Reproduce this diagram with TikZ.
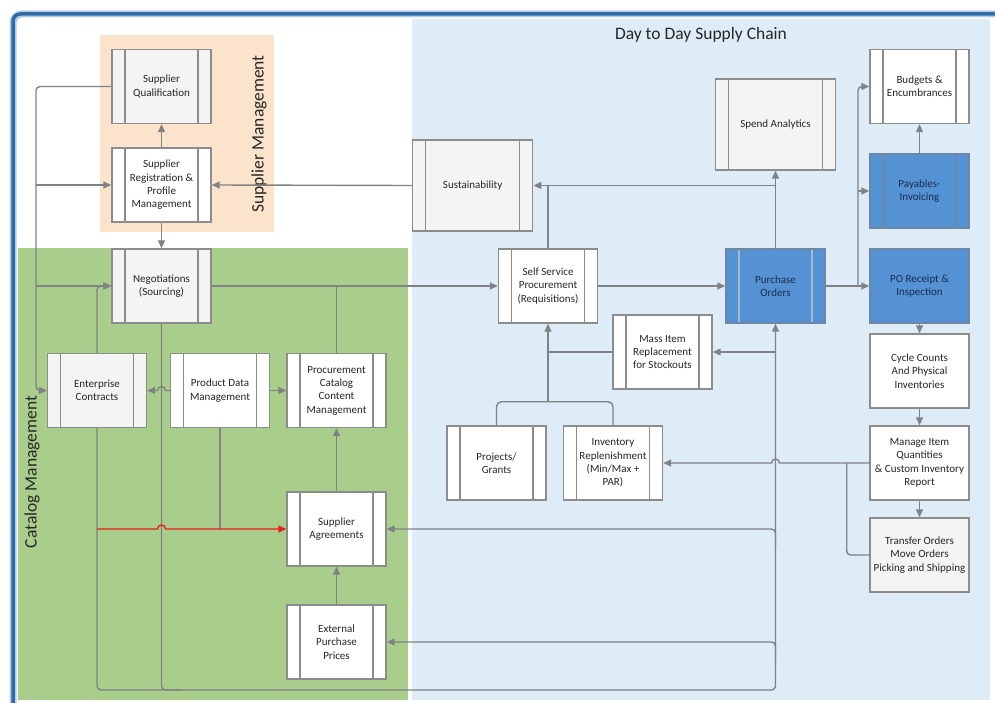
\documentclass[tikz,border=0pt]{standalone}
\usepackage{fontspec}
\setmainfont{Carlito}
\usetikzlibrary{arrows.meta}
\definecolor{framec}{RGB}{46,107,168}
\definecolor{orangebg}{RGB}{251,228,203}
\definecolor{greenbg}{RGB}{169,206,140}
\definecolor{bluebg}{RGB}{221,236,246}
\definecolor{boxc}{RGB}{140,140,140}
\definecolor{connc}{RGB}{128,130,133}
\definecolor{lightfill}{RGB}{244,244,244}
\definecolor{bluefill}{RGB}{84,146,212}
\definecolor{blueline}{RGB}{110,135,165}
\definecolor{textc}{RGB}{38,38,38}
\definecolor{navy}{RGB}{28,45,80}
\definecolor{redc}{RGB}{232,28,28}
\tikzset{
  basebox/.style={draw=boxc, line width=1.4pt, minimum width=99pt, minimum height=74pt,
    inner sep=1pt, align=center, font=\fontsize{11}{13.3}\selectfont, text=textc, fill=white},
  proc/.style={basebox, path picture={
      \draw[#1, line width=1.4pt]
        ([xshift=13pt]path picture bounding box.north west) -- ([xshift=13pt]path picture bounding box.south west)
        ([xshift=-13pt]path picture bounding box.north east) -- ([xshift=-13pt]path picture bounding box.south east);}},
  proc/.default=boxc,
  bigbox/.style={minimum width=120pt, minimum height=91pt},
  bluebox/.style={fill=bluefill, draw=blueline, text=navy},
  line/.style={draw=connc, line width=1.4pt},
  arr/.style={line, -{Triangle[length=8pt,width=7pt]}},
  redarr/.style={draw=redc, line width=1.4pt, -{Triangle[length=8pt,width=7pt]}},
  region/.style={font=\fontsize{17.5}{20}\selectfont, text=black!85}
}
\begin{document}
\begin{tikzpicture}[x=1pt,y=-1pt]
\useasboundingbox (0,0) rectangle (995,703);
\fill[white] (0,0) rectangle (995,703);
% frame
\begin{scope}
\clip (0,0) rectangle (995,703);
\draw[framec!35, line width=7pt, rounded corners=9pt] (13,14) rectangle (1010,720);
\draw[framec, line width=3.5pt, rounded corners=7pt] (13,14) rectangle (1010,720);
\end{scope}
% regions
\fill[orangebg] (100,35) rectangle (274,232);
\fill[greenbg] (18,248) rectangle (408,700);
\fill[bluebg] (412,19) rectangle (990,700);
\node[region] (title) at (701,35) {Day to Day Supply Chain};
\node[region, rotate=90] (suplab) at (259,134) {Supplier Management};
\node[region, rotate=90] (catlab) at (32,472) {Catalog Management};
% nodes
\node[proc, fill=lightfill] (sq) at (161.5,86.5) {Supplier\\Qualification};
\node[proc] (sr) at (161.5,185) {Supplier\\Registration \&\\Profile\\Management};
\node[proc, fill=lightfill] (neg) at (161.5,286) {Negotiations\\(Sourcing)};
\node[proc, fill=lightfill] (ec) at (97,390.5) {Enterprise\\Contracts};
\node[proc] (pdm) at (220,390.5) {Product Data\\Management};
\node[proc] (pccm) at (336.5,390.5) {Procurement\\Catalog\\Content\\Management};
\node[proc] (sa) at (336.5,529) {Supplier\\Agreements};
\node[proc] (epp) at (336.5,642) {External\\Purchase\\Prices};
\node[proc, bigbox, fill=lightfill] (sus) at (472.7,185.5) {Sustainability};
\node[proc, bigbox, fill=lightfill] (spend) at (775.5,124.5) {Spend Analytics};
\node[proc] (bud) at (919.5,86.5) {Budgets \&\\Encumbrances};
\node[proc=blueline, bluebox] (pay) at (919.5,191) {Payables-\\Invoicing};
\node[basebox, bluebox] (por) at (919.5,286) {PO Receipt \&\\Inspection};
\node[proc=blueline!60, bluebox] (po) at (775.5,286) {Purchase\\Orders};
\node[proc] (ssp) at (548,286) {Self Service\\Procurement\\(Requisitions)};
\node[proc] (mir) at (662.5,352) {Mass Item\\Replacement\\for Stockouts};
\node[proc] (proj) at (496.5,463) {Projects/\\Grants};
\node[proc] (ir) at (613,463) {Inventory\\Replenishment\\(Min/Max +\\PAR)};
\node[basebox] (cc) at (919.5,371) {Cycle Counts\\And Physical\\Inventories};
\node[basebox] (mi) at (919.5,463) {Manage Item\\Quantities\\\& Custom Inventory\\Report};
\node[basebox, fill=lightfill] (to) at (919.5,555) {Transfer Orders\\Move Orders\\Picking and Shipping};
% junction coordinates
\coordinate (cL) at (36,0);
\coordinate (cBot) at (0,690);
\coordinate (cJ) at (0,401.7);
\coordinate (cT) at (846.7,0);
\coordinate (cR) at (858,0);
% supplier management connectors
\draw[arr] (sr) -- (sq);
\draw[arr, rounded corners=4pt] (sq.west) -| (cL |- ec.west) -- (ec.west);
\draw[arr] (cL |- sr.west) -- (sr.west);
\draw[arr] (cL |- neg.west) -- (neg.west);
\draw[arr, rounded corners=4pt] (ec.north) |- (neg.west);
\draw[arr] (sus.west) -- (sr.east);
\draw[arr] (sr) -- (neg);
\draw[arr] (neg.east) -- (ssp.west);
\draw[line] (pccm.north) -- (pccm.north |- neg.east);
% catalog connectors
\draw[arr] (pdm.west) -- ([xshift=4pt]neg.south |- pdm.west) arc[start angle=0,end angle=-180,radius=4] -- (ec.east);
\draw[arr] (pdm.east) -- (pccm.west);
\draw[line, rounded corners=4pt] (neg.south) |- ([xshift=20pt]neg.south |- cBot);
\draw[arr, rounded corners=4pt] (ec.south) |- (po.south |- cBot) -- (po.south);
\draw[line] (pdm.south) -- (pdm.south |- sa.west);
\draw[redarr] (ec.south |- sa.west) -- ([xshift=-4pt]neg.south |- sa.west) arc[start angle=180,end angle=360,radius=4] -- (sa.west);
\draw[arr] (sa) -- (pccm);
\draw[arr] (epp) -- (sa);
\draw[arr, rounded corners=4pt] ([yshift=-20pt]po.south |- epp.east) -- (po.south |- epp.east) -- (epp.east);
\draw[arr, rounded corners=4pt] ([yshift=-20pt]po.south |- sa.east) -- (po.south |- sa.east) -- (sa.east);
\draw[arr] (po.south |- mir.east) -- (mir.east);
% day to day connectors
\draw[arr] (ssp.east) -- (po.west);
\draw[arr] (po) -- (spend);
\draw[arr] (po.north |- sus.east) -- (sus.east);
\draw[line] (ssp.north) -- (ssp.north |- sus.east);
\draw[line, rounded corners=5pt] (proj.north) |- (cJ -| ir.north) -- (ir.north);
\draw[arr] (ssp.south |- cJ) -- (ssp.south);
\draw[line] (mir.west) -- (ssp.south |- mir.west);
\draw[arr] (mi.west) -- ([xshift=4pt]po.south |- mi.west) arc[start angle=0,end angle=-180,radius=4] -- (ir.east);
\draw[line, rounded corners=4pt] (to.west) -| (cT |- mi.west);
\draw[arr] (po.east) -- (por.west);
\draw[arr, rounded corners=4pt] (cR |- po.east) |- (bud.west);
\draw[arr] (cR |- pay.west) -- (pay.west);
\draw[arr] (pay) -- (bud);
\draw[arr] (por) -- (cc);
\draw[arr] (cc) -- (mi);
\draw[arr] (mi) -- (to);
\end{tikzpicture}
\end{document}
